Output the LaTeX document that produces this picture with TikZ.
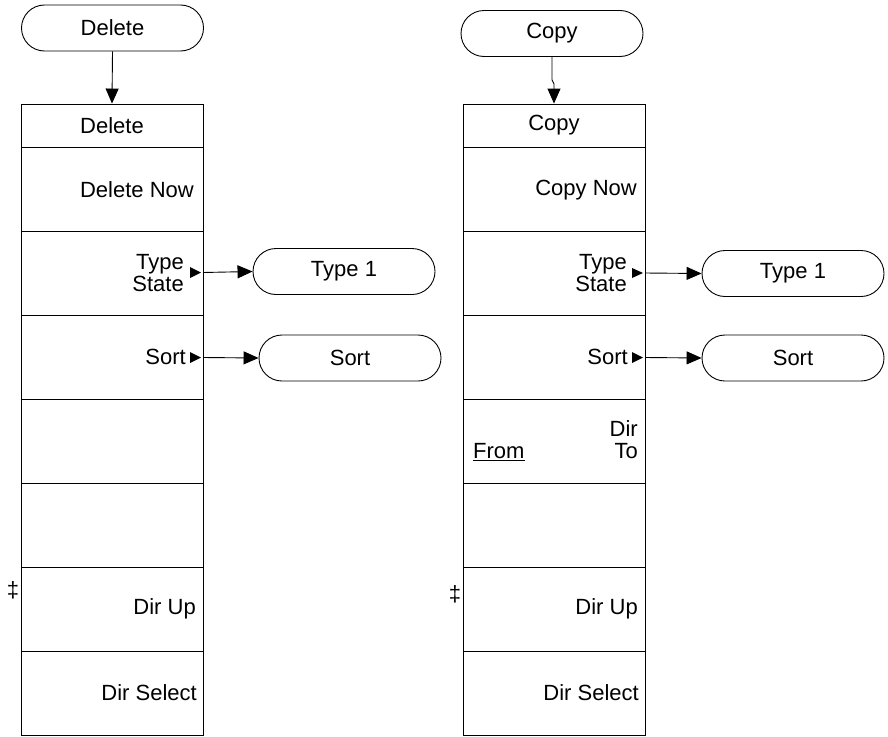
\documentclass[tikz,border=0pt]{standalone}
\usepackage{fontspec}
\setmainfont{Liberation Sans}
\usetikzlibrary{arrows.meta}
\begin{document}
\begin{tikzpicture}[x=1pt,y=-1pt,
  every node/.style={font=\fontsize{22}{22}\selectfont, inner sep=0pt},
  stad/.style={draw, line width=0.9pt, rounded corners=23pt, minimum width=182pt, minimum height=46pt},
  cell/.style={draw, line width=0.9pt, minimum width=182pt, minimum height=84pt},
  head/.style={draw, line width=0.9pt, minimum width=182pt, minimum height=43pt},
  lbl/.style={anchor=east, align=right},
  conn/.style={line width=0.9pt, -{Triangle[length=15pt,width=13pt]}},
  tri/.style={fill=black}
]
\useasboundingbox (0,0) rectangle (888,736);

% ---------- Left column ----------
\node[stad] (ldel) at (112.5,28) {Delete};
\node[head] (lh) at (112,125.5) {Delete};
\draw[conn] (ldel.south) -- (lh.north);
\node[cell] (l1) at (112,189) {};
\node[cell] (l2) at (112,273) {};
\node[cell] (l3) at (112,357) {};
\node[cell] (l4) at (112,441) {};
\node[cell] (l5) at (112,525) {};
\node[cell] (l6) at (112,609) {};
\node[cell] (l7) at (112,693) {};
\node[lbl] (l1t) at (194,190) {Delete Now};
\node[lbl] (l2t) at (184,273) {Type\\State};
\node[lbl] (l3t) at (186,357) {Sort};
\node[lbl] (l6t) at (196,609) {Dir Up};
\node[lbl] (l7t) at (197,693) {Dir Select};
\node (ldag) at (13,590) {‡};
\fill[tri] (190,267) -- (201,272.5) -- (190,278) -- cycle;
\coordinate (l2m) at (203,272.5);
\fill[tri] (190,352) -- (201,357.5) -- (190,363) -- cycle;
\coordinate (l3m) at (203,357.5);
\node[stad] (ltype) at (344,271.5) {Type 1};
\node[stad] (lsort) at (350,358) {Sort};
\draw[conn] (l2m) -- (ltype.west);
\draw[conn] (l3m) -- (lsort.west);

% ---------- Right column ----------
\node[stad] (rcopy) at (552,33.5) {Copy};
\node[head] (rh) at (554,125.5) {Copy};
\coordinate (rj) at (554,84);
\draw[conn] (rcopy.south) -- (552,80) -- (rj) -- (rh.north);
\node[cell] (r1) at (554,189) {};
\node[cell] (r2) at (554,273) {};
\node[cell] (r3) at (554,357) {};
\node[cell] (r4) at (554,441) {};
\node[cell] (r5) at (554,525) {};
\node[cell] (r6) at (554,609) {};
\node[cell] (r7) at (554,693) {};
\node[lbl] (r1t) at (637,190) {Copy Now};
\node[lbl] (r2t) at (627,273) {Type\\State};
\node[lbl] (r3t) at (628,357) {Sort};
\node[lbl] (r4t) at (638,440) {Dir\\To};
\node[anchor=west] (r4f) at (473,452) {\underline{From}};
\node[lbl] (r6t) at (638,609) {Dir Up};
\node[lbl] (r7t) at (639,693) {Dir Select};
\node (rdag) at (455,594) {‡};
\fill[tri] (632,268) -- (643,273) -- (632,278) -- cycle;
\coordinate (r2m) at (645,273);
\fill[tri] (632,352) -- (643,357.5) -- (632,363) -- cycle;
\coordinate (r3m) at (645,357.5);
\node[stad] (rtype) at (793,273.5) {Type 1};
\node[stad] (rsort) at (793,358) {Sort};
\draw[conn] (r2m) -- (rtype.west);
\draw[conn] (r3m) -- (rsort.west);
\end{tikzpicture}
\end{document}
